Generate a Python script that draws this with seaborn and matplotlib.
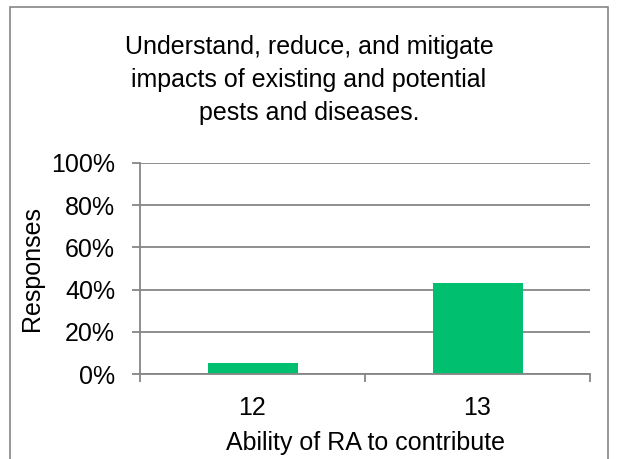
import matplotlib
matplotlib.use("Agg")
import matplotlib.pyplot as plt
import seaborn as sns
import pandas as pd
from matplotlib.ticker import PercentFormatter
from matplotlib.patches import Rectangle

categories = ["12", "13"]
values = [5.3, 43.3]
yticks = [0, 20, 40, 60, 80, 100]

title = "Understand, reduce, and mitigate\nimpacts of existing and potential\npests and diseases."

sns.set_style("white")
plt.rcParams['font.family'] = ['Liberation Sans', 'DejaVu Sans']
plt.rcParams['text.color'] = 'black'
plt.rcParams['axes.labelcolor'] = 'black'
plt.rcParams['xtick.labelcolor'] = 'black'
plt.rcParams['ytick.labelcolor'] = 'black'

df = pd.DataFrame({"cat": categories, "val": values})

fig = plt.figure(figsize=(6.18, 4.59), dpi=100)
ax = fig.add_axes([140/618, 1 - 374/459, 450/618, (374-163)/459])

sns.barplot(data=df, x="cat", y="val", color="#00C070", width=0.4, ax=ax,
            saturation=1, edgecolor="none")

ax.set_ylim(0, 100)
ax.set_xlim(-0.5, 1.5)
ax.set_yticks(yticks)
ax.yaxis.set_major_formatter(PercentFormatter(decimals=0))
ax.grid(axis="y", color="#868686", linewidth=1.3)
ax.set_axisbelow(True)
for s in ["top", "right"]:
    ax.spines[s].set_visible(False)
for s in ["left", "bottom"]:
    ax.spines[s].set_color("#868686")
    ax.spines[s].set_linewidth(1.3)

ax.set_xticks([-0.5, 0.5, 1.5], minor=False)
ax.set_xticks([0, 1], minor=True)
ax.set_xticklabels(["", "", ""])
ax.set_xticklabels(categories, minor=True)
ax.tick_params(axis="x", which="major", length=6, color="#868686", width=1.3, direction="out", bottom=True)
ax.tick_params(axis="x", which="minor", length=0, labelsize=18, pad=16, labelcolor="black")
ax.tick_params(axis="y", length=6, color="#868686", width=1.3, direction="out", left=True, labelsize=18, pad=12, labelcolor="black")

ax.set_xlabel("Ability of RA to contribute", fontsize=18, labelpad=8, color="black")
ax.set_ylabel("Responses", fontsize=18, labelpad=5, color="black")

fig.text(0.5, 1 - 80/459, title, ha="center", va="center", fontsize=18, linespacing=1.45, color="black")

fig.patches.append(Rectangle((10/618, -0.01), 598/618, 1 - 7/459 + 0.01,
                             transform=fig.transFigure, fill=False,
                             edgecolor="#868686", linewidth=1.2))

fig.savefig("out.png", dpi=100)
